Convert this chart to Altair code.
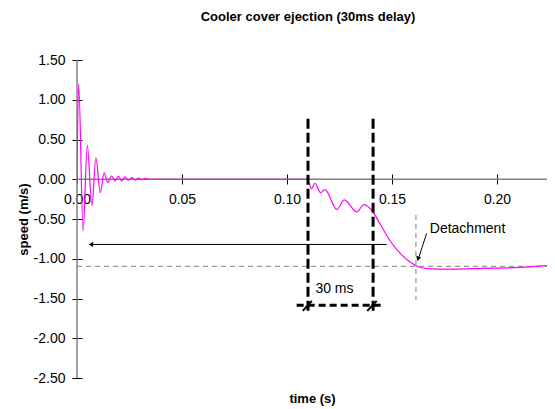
import altair as alt
import pandas as pd

# ---- data ----
time_s = [0.0, 0.0008, 0.0029, 0.0049, 0.0071, 0.0090, 0.0111, 0.0129, 0.0146,
          0.0165, 0.0181, 0.0197, 0.0213, 0.0229, 0.0245, 0.0261, 0.0277, 0.0293,
          0.0309, 0.0325, 0.0345, 0.1097, 0.1117, 0.1133, 0.1160, 0.1181, 0.1237,
          0.1273, 0.1332, 0.1367, 0.1403, 0.1443, 0.1490, 0.1538, 0.1586, 0.1625,
          0.1670, 0.1713, 0.1800, 0.1930, 0.2050, 0.2170, 0.2276]
speed = [0.0, 1.20, -0.65, 0.43, -0.33, 0.27, -0.17, 0.08, -0.04,
         0.04, -0.02, 0.04, -0.02, 0.03, -0.01, 0.02, -0.01, 0.015,
         -0.005, 0.01, 0.0, 0.0, -0.12, -0.05, -0.17, -0.13, -0.38,
         -0.26, -0.41, -0.32, -0.39, -0.56, -0.77, -0.93, -1.04, -1.10,
         -1.125, -1.13, -1.13, -1.12, -1.115, -1.10, -1.08]

x_ticks = [0.0, 0.05, 0.10, 0.15, 0.20]
y_ticks = [-2.5, -2.0, -1.5, -1.0, -0.5, 0.0, 0.5, 1.0, 1.5]

delay_lines_t = [0.110, 0.141]
delay_top, delay_bottom = 0.76, -1.67
delay_bar_v = -1.585
delay_bar_t = [0.1046, 0.1459]
delay_label = "30 ms"
detach_t = 0.1614
detach_v = -1.095
arrow_v = -0.82
arrow_t = [0.1475, 0.0054]
detach_label = "Detachment"

PLOT_W = 470
XMAX = PLOT_W / 2100.0
FONT = "Liberation Sans"

xs = alt.Scale(domain=[0, XMAX], nice=False, zero=False)
ys = alt.Scale(domain=[-2.5, 1.5], nice=False, zero=False)

x_axis = alt.Axis(values=x_ticks, tickCount=20, labelExpr="format(datum.value, '.2f')",
                  offset=-204, tickSize=10, domain=False, grid=False,
                  labelPadding=8, labelFlush=False, labelOverlap=False,
                  labelFont=FONT, labelFontSize=14, labelColor="black",
                  tickColor="black", title="time (s)", titleY=218,
                  titleFont=FONT, titleFontSize=13, titleFontWeight="bold",
                  titleColor="black")
y_axis = alt.Axis(values=y_ticks, tickCount=20,
                  labelExpr="(datum.value < 0 ? '-' : '') + format(abs(datum.value), '.2f')",
                  offset=-5, tickSize=10, domain=False, grid=False,
                  labelPadding=7, labelFlush=False, labelOverlap=False,
                  labelFont=FONT, labelFontSize=14, labelColor="black",
                  tickColor="black", title="speed (m/s)", titleX=-52,
                  titleFont=FONT, titleFontSize=13, titleFontWeight="bold",
                  titleColor="black")

df = pd.DataFrame({"t": time_s, "v": speed})

# axis lines (gray)
axes_df = pd.DataFrame({"t": [0.0, 0.0], "t2": [0.0, XMAX], "v": [-2.5, 0.0], "v2": [1.5, 0.0]})
axes_lines = alt.Chart(axes_df).mark_rule(color="#808080", strokeWidth=1.5).encode(
    x=alt.X("t:Q", scale=xs, axis=x_axis), x2="t2:Q",
    y=alt.Y("v:Q", scale=ys, axis=y_axis), y2="v2:Q")

gray_df = pd.DataFrame({"t": [0.0, detach_t], "t2": [XMAX, detach_t],
                        "v": [detach_v, -0.45], "v2": [detach_v, -1.52]})
gray = alt.Chart(gray_df).mark_rule(color="#808080", strokeWidth=1, strokeDash=[5, 4]).encode(
    x="t:Q", x2="t2:Q", y="v:Q", y2="v2:Q")

line = alt.Chart(df).mark_line(color="#FF00FF", strokeWidth=1.2, interpolate="monotone", clip=True).encode(
    x="t:Q", y="v:Q")

vdf = pd.DataFrame({"t": delay_lines_t, "v": [delay_top] * 2, "v2": [delay_bottom] * 2})
vlines = alt.Chart(vdf).mark_rule(color="black", strokeWidth=3, strokeDash=[10, 4]).encode(
    x="t:Q", y="v:Q", y2="v2:Q")

hdf = pd.DataFrame({"t": [delay_bar_t[0]], "t2": [delay_bar_t[1]], "v": [delay_bar_v]})
hbar = alt.Chart(hdf).mark_rule(color="black", strokeWidth=3, strokeDash=[7, 4]).encode(
    x="t:Q", x2="t2:Q", y="v:Q")

slash_df = pd.DataFrame({"t": [0.1075, 0.1382], "t2": [0.1118, 0.1427],
                         "v": [-1.656, -1.656], "v2": [-1.53, -1.53]})
slashes = alt.Chart(slash_df).mark_rule(color="black", strokeWidth=2).encode(
    x="t:Q", x2="t2:Q", y="v:Q", y2="v2:Q")

arrow_df = pd.DataFrame({"t": [arrow_t[0]], "t2": [arrow_t[1] + 0.0015], "v": [arrow_v]})
arrow = alt.Chart(arrow_df).mark_rule(color="black", strokeWidth=1).encode(
    x="t:Q", x2="t2:Q", y="v:Q")
head_df = pd.DataFrame({"t": [arrow_t[1] + 0.0012], "v": [arrow_v]})
head = alt.Chart(head_df).mark_point(shape="triangle-left", filled=True, color="black",
                                     size=28, opacity=1).encode(x="t:Q", y="v:Q")

det_df = pd.DataFrame({"t": [0.1665], "t2": [0.1627], "v": [-0.68], "v2": [-0.99]})
det_arrow = alt.Chart(det_df).mark_rule(color="black", strokeWidth=1).encode(
    x="t:Q", x2="t2:Q", y="v:Q", y2="v2:Q")
det_head_df = pd.DataFrame({"t": [0.1624], "v": [-1.0]})
det_head = alt.Chart(det_head_df).mark_point(shape="triangle-down", filled=True, color="black",
                                             size=28, angle=18, opacity=1).encode(x="t:Q", y="v:Q")

txt_df = pd.DataFrame({"t": [0.1226], "v": [-1.384], "label": [delay_label]})
txt = alt.Chart(txt_df).mark_text(font=FONT, fontSize=14, color="black", align="center",
                                  baseline="middle").encode(x="t:Q", y="v:Q", text="label:N")
txt2_df = pd.DataFrame({"t": [0.168], "v": [-0.63], "label": [detach_label]})
txt2 = alt.Chart(txt2_df).mark_text(font=FONT, fontSize=14, color="black", align="left",
                                   baseline="middle").encode(x="t:Q", y="v:Q", text="label:N")

chart = alt.layer(axes_lines, gray, line, vlines, hbar, slashes, arrow, head,
                  det_arrow, det_head, txt, txt2).properties(
    width=PLOT_W, height=318,
    autosize=alt.AutoSizeParams(type="none"),
    padding={"left": 69, "top": 52, "right": 0, "bottom": 29},
    title=alt.TitleParams(text="Cooler cover ejection (30ms delay)", font=FONT, fontSize=13,
                          fontWeight="bold", anchor="middle", frame="group", offset=29,
                          dx=-4, color="black"),
    background="white",
).configure_view(stroke=None)

chart.save("out.html", embed_options={"renderer": "svg", "actions": False})
